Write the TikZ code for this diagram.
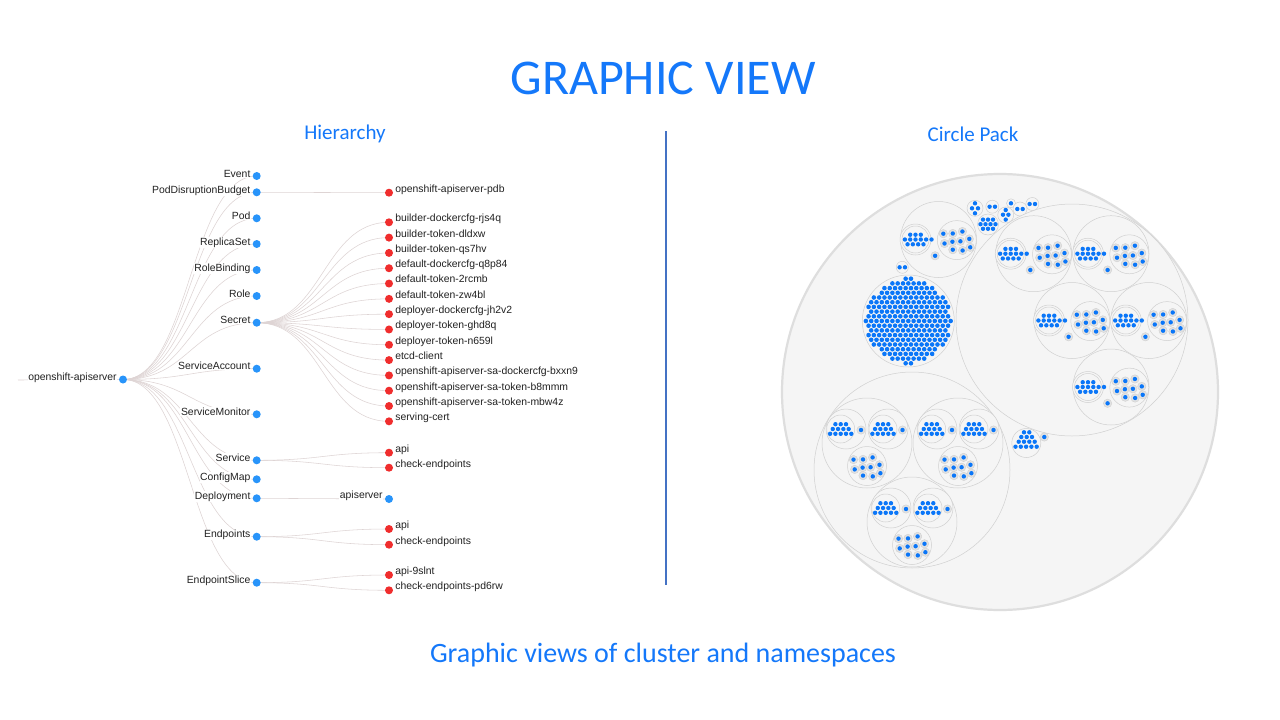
\documentclass[tikz,border=0pt]{standalone}
\usepackage{fontspec}
\setmainfont{Carlito}
\newfontfamily\hfont{Liberation Sans}
\usetikzlibrary{calc}
\pgfdeclarelayer{bg}
\pgfsetlayers{bg,main}
\definecolor{tblue}{RGB}{20,120,250}
\definecolor{hblue}{RGB}{40,148,250}
\definecolor{hred}{RGB}{240,45,45}
\definecolor{linkc}{RGB}{222,212,212}
\definecolor{vline}{RGB}{68,114,196}
\definecolor{cpfill}{RGB}{245,245,245}
\definecolor{cpline}{RGB}{208,208,208}
\definecolor{cpouter}{RGB}{222,222,222}
\definecolor{cpsmf}{RGB}{226,226,226}
\definecolor{cpblue}{RGB}{10,118,248}
\tikzset{
  lblL/.style={anchor=base east, font=\hfont\fontsize{10.4}{12}\selectfont, text=black!87, fill=white, inner sep=0.6pt},
  lblR/.style={anchor=base west, font=\hfont\fontsize{10.4}{12}\selectfont, text=black!87, fill=white, inner sep=0.6pt},
  bdot/.style={circle, fill=hblue, inner sep=0pt, minimum size=8pt},
  rdot/.style={circle, fill=hred, inner sep=0pt, minimum size=8pt},
  link/.style={draw=linkc, line width=0.55pt},
  cpc/.style={draw=cpline, line width=0.5pt, fill=cpfill},
  cpsm/.style={draw=cpline, line width=0.4pt, fill=cpsmf},
  cpo/.style={draw=cpouter, line width=2.2pt, fill=cpfill},
  title/.style={text=tblue, font=\fontsize{50}{56}\selectfont},
  sub/.style={text=tblue, font=\fontsize{21}{24}\selectfont},
}
\newcommand\hlink[2]{\draw[link] let \p1=(#1.center), \p2=(#2.center) in (\p1) .. controls ({(\x1+\x2)/2},\y1) and ({(\x1+\x2)/2},\y2) .. (\p2);}
\newcommand\cpdot[2]{\fill[cpblue] (#1,#2) circle (2.2pt);}
\newcommand\cpsdot[2]{\draw[cpsm] (#1,#2) circle (4.2pt); \fill[cpblue] (#1,#2) circle (2.2pt);}
\newcommand\cpHexA{%
  \foreach \xx in {-5.3,0,5.3} {\cpdot{\xx}{-4.8}}
  \foreach \xx in {-10.6,-5.3,0,5.3,10.6} {\cpdot{\xx}{0}}
  \foreach \xx in {-7.95,-2.65,2.65,7.95} {\cpdot{\xx}{4.8}}}
\newcommand\cpHexB{%
  \foreach \xx in {-5.3,0,5.3} {\cpdot{\xx}{-4.8}}
  \foreach \xx in {-7.95,-2.65,2.65,7.95} {\cpdot{\xx}{0}}
  \foreach \xx in {-10.6,-5.3,0,5.3,10.6} {\cpdot{\xx}{4.8}}}
\newcommand\cpTen{%
  \draw[cpc] (0,0) circle (19.5pt);
  \foreach \px/\py in {-13.5/-6.4,-4/-6.6,5.6/-8.6,-12.3/3.4,-4.4/1.6,3.6/1.2,12.5/-1.2,-4/9.6,5.8/10.4,13.4/7.2} {\cpsdot{\px}{\py}}}
\newcommand\cpUnitR[2]{\begin{scope}[shift={(#1,#2)}]
  \draw[cpc] (0,0) circle (38pt);
  \draw[cpc] (-23,0) circle (15.5pt);
  \draw[cpc] (-23,0) circle (13.5pt);
  \begin{scope}[shift={(-23,0)}]\cpHexA\end{scope}
  \cpdot{-7}{0}
  \cpsdot{-3.4}{16.3}
  \begin{scope}[shift={(18.3,0.6)}]\cpTen\end{scope}
\end{scope}}
\newcommand\cpUnitL[2]{\begin{scope}[shift={(#1,#2)}]
  \draw[cpc] (0,0) circle (45pt);
  \draw[cpc] (-21,-14) circle (20pt);
  \draw[cpc] (-26.3,-14) circle (14pt);
  \begin{scope}[shift={(-26.3,-14)}]\cpHexB\end{scope}
  \cpsdot{-6}{-13}
  \draw[cpc] (21,-14) circle (20pt);
  \draw[cpc] (16,-14) circle (14pt);
  \begin{scope}[shift={(16,-14)}]\cpHexB\end{scope}
  \cpsdot{35.5}{-13}
  \begin{scope}[shift={(0,23)}]\cpTen\end{scope}
\end{scope}}
\begin{document}
\begin{tikzpicture}[x=1pt,y=-1pt]
\useasboundingbox (0,0) rectangle (1280,720);
% titles
\node[title] (ttl) at (663,78) {GRAPHIC VIEW};
\node[sub] (hier) at (345,134) {Hierarchy};
\node[sub] (cpk) at (973,134) {Circle Pack};
\node[text=tblue, font=\fontsize{28}{32}\selectfont] (cap) at (663,655) {Graphic views of cluster and namespaces};
\coordinate (vtop) at (666,131);
\coordinate (vbot) at (666,585);
\draw[vline, line width=1.2pt] (vtop) -- (vbot);
% ---------------- hierarchy
\node[bdot] (root) at (123,379.5) {};
\node[lblL] at ($(root)+(-5.5,1)$) {openshift-apiserver};
\coordinate (rootin) at (18,380);
\foreach \id/\yy/\txt in {ev/176/Event, pdb/192.3/PodDisruptionBudget, pod/218.3/Pod, rs/244/ReplicaSet, rb/270/RoleBinding, role/296/Role, sec/322.7/Secret, sa/368.7/ServiceAccount, sm/414.3/ServiceMonitor, svc/460.3/Service, cm/479.3/ConfigMap, dep/498.3/Deployment, ep/536.7/Endpoints, eps/582.7/EndpointSlice}{
  \node[bdot] (\id) at (256.7,\yy) {};
  \node[lblL] at ($(\id)+(-5.5,1)$) {\txt};
}
\foreach \id/\yy/\txt in {pdba/192.7/openshift-apiserver-pdb, sva/452.7/api, svb/467.7/check-endpoints, epa/529/api, epb/544.7/check-endpoints, esa/575/api-9slnt, esb/590.3/check-endpoints-pd6rw}{
  \node[rdot] (\id) at (389,\yy) {};
  \node[lblR] at ($(\id)+(5.5,-0.6)$) {\txt};
}
\foreach \i/\txt in {0/builder-dockercfg-rjs4q, 1/builder-token-dldxw, 2/builder-token-qs7hv, 3/default-dockercfg-q8p84, 4/default-token-2rcmb, 5/default-token-zw4bl, 6/deployer-dockercfg-jh2v2, 7/deployer-token-ghd8q, 8/deployer-token-n659l, 9/etcd-client, 10/openshift-apiserver-sa-dockercfg-bxxn9, 11/openshift-apiserver-sa-token-b8mmm, 12/openshift-apiserver-sa-token-mbw4z, 13/serving-cert}{
  \pgfmathsetmacro\yy{222.3+15.31*\i}
  \node[rdot] (s\i) at (389,\yy) {};
  \node[lblR] at ($(s\i)+(5.5,-0.6)$) {\txt};
}
\node[bdot] (depa) at (389,499) {};
\node[lblL] at ($(depa)+(-5.5,-0.6)$) {apiserver};
\begin{pgfonlayer}{bg}
  \fill[white] (0,0) rectangle (1280,720);
  \draw[link] (rootin) -- (root.center);
  \foreach \c in {ev,pdb,pod,rs,rb,role,sec,sa,sm,svc,cm,dep,ep,eps} {\hlink{root}{\c}}
  \foreach \i in {0,...,13} {\hlink{sec}{s\i}}
  \hlink{pdb}{pdba}
  \hlink{svc}{sva} \hlink{svc}{svb}
  \hlink{dep}{depa}
  \hlink{ep}{epa} \hlink{ep}{epb}
  \hlink{eps}{esa} \hlink{eps}{esb}
\end{pgfonlayer}
% ---------------- circle pack
\draw[cpo] (1000,392) circle (218pt);
% big hex cluster
\draw[cpc] (908.3,321) circle (46pt);
\foreach \r in {-9,...,9}{\foreach \c in {-8,...,8}{
  \pgfmathsetmacro\xx{\c*5.3+mod(abs(\r),2)*2.65}
  \pgfmathsetmacro\yy{\r*4.7}
  \pgfmathsetmacro\dd{sqrt(\xx*\xx+\yy*\yy)}
  \ifdim\dd pt<42.5pt \fill[cpblue] ($(908.3,321)+(\xx,\yy)$) circle (2.3pt);\fi
}}
\draw[cpc] (902.3,267.3) circle (6pt);
\cpdot{899.6}{267.3}\cpdot{905}{267.3}
% top small clusters
\draw[cpc] (975,208.3) circle (8pt);
\cpdot{975}{203.3}\cpdot{972}{208.3}\cpdot{978}{208.3}\cpdot{975}{213.3}
\draw[cpc] (992.3,206.7) circle (6.5pt);
\cpdot{989.6}{206.7}\cpdot{995}{206.7}
\draw[cpc] (988,224.5) circle (10.5pt);
\foreach \xx in {983,988,993} {\cpdot{\xx}{219.6}\cpdot{\xx}{228.8}}
\foreach \xx in {980.5,985.5,990.5,995.5} {\cpdot{\xx}{224.2}}
\draw[cpc] (1005.7,215) circle (8pt);
\cpdot{1005.7}{210}\cpdot{1003}{214.7}\cpdot{1008.4}{214.7}\cpdot{1005.7}{219.6}
\draw[cpc] (1011,203.3) circle (4.5pt);
\cpdot{1011}{203.3}
\draw[cpc] (1020,209) circle (7pt);
\cpdot{1017.3}{209}\cpdot{1022.7}{209}
\draw[cpc] (1032.3,204) circle (6.5pt);
\cpdot{1029.6}{204}\cpdot{1035}{204}
% top-left unit
\cpUnitR{938.5}{239.5}
% right group
\draw[cpc] (1072,320) circle (116pt);
\cpUnitR{1033.7}{253.7}
\cpUnitR{1111}{253.7}
\cpUnitR{1072}{320.5}
\cpUnitR{1148.8}{320.5}
\cpUnitR{1111}{387}
% bottom-left group
\draw[cpc] (912,470) circle (98pt);
\cpUnitL{867}{443}
\cpUnitL{958}{443}
\cpUnitL{912}{522}
% triangle cluster
\draw[cpc] (1026.3,443) circle (14.5pt);
\cpdot{1024}{432.3}\cpdot{1029.3}{432.3}
\cpdot{1021.3}{437}\cpdot{1026.7}{437}\cpdot{1032}{437}
\cpdot{1018.7}{441.7}\cpdot{1024}{441.7}\cpdot{1029.3}{441.7}\cpdot{1034.7}{441.7}
\cpdot{1015.5}{446.7}\cpdot{1020.8}{446.7}\cpdot{1026.1}{446.7}\cpdot{1031.4}{446.7}\cpdot{1036.7}{446.7}
\cpsdot{1044.3}{437}
\end{tikzpicture}
\end{document}
